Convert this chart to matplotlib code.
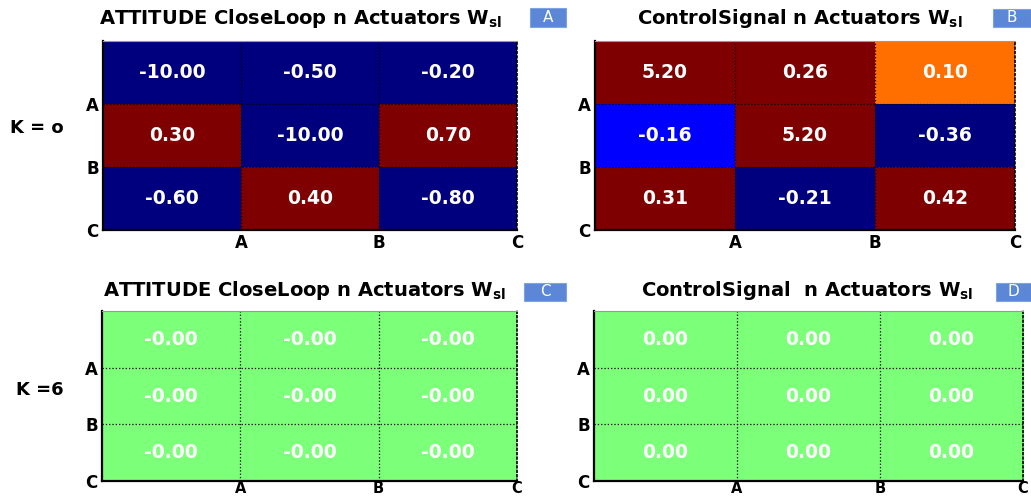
import numpy as np
import matplotlib
matplotlib.use('Agg')
import matplotlib.pyplot as plt
from matplotlib.colors import Normalize
from matplotlib.patches import Rectangle

# data
row_names = ['A', 'B', 'C']
col_names = ['A', 'B', 'C']
att_k0 = [[-10.00, -0.50, -0.20],
          [0.30, -10.00, 0.70],
          [-0.60, 0.40, -0.80]]
ctrl_k0 = [[5.20, 0.26, 0.10],
           [-0.16, 5.20, -0.36],
           [0.31, -0.21, 0.42]]
att_k6 = [[-0.0, -0.0, -0.0],
          [-0.0, -0.0, -0.0],
          [-0.0, -0.0, -0.0]]
ctrl_k6 = [[0.0, 0.0, 0.0],
           [0.0, 0.0, 0.0],
           [0.0, 0.0, 0.0]]
titles = ['ATTITUDE CloseLoop n Actuators',
          'ControlSignal n Actuators',
          'ATTITUDE CloseLoop n Actuators',
          'ControlSignal  n Actuators']
panel_tags = ['A', 'B', 'C', 'D']
k_labels = ['K = o', 'K =6']

plt.rcParams['font.family'] = ['DejaVu Sans']
plt.rcParams['font.weight'] = 'bold'
plt.rcParams['mathtext.fontset'] = 'custom'
plt.rcParams['mathtext.bf'] = 'DejaVu Sans:bold'
plt.rcParams['mathtext.rm'] = 'DejaVu Sans:bold'

W, H = 1031, 497
fig = plt.figure(figsize=(W / 100, H / 100), dpi=100)


def px_axes(x0, y0, x1, y1):
    # pixel box (top-left origin) -> figure fraction
    return fig.add_axes([x0 / W, 1 - y1 / H, (x1 - x0) / W, (y1 - y0) / H])


def heat(ax, vals, norm, xpad=3, xsize=12):
    vals = np.array(vals)
    ax.imshow(vals, cmap='jet', norm=norm, extent=(0, 3, 3, 0),
              aspect='auto', interpolation='nearest')
    for i in range(vals.shape[0]):
        for j in range(vals.shape[1]):
            ax.text(j + 0.5, i + 0.5, '%.2f' % vals[i, j], color='white',
                    ha='center', va='center', fontsize=13.5, weight='bold')
    ax.set_xlim(0, 3)
    ax.set_ylim(3, 0)
    ax.set_xticks([1, 2, 3])
    ax.set_yticks([1, 2, 3])
    ax.set_xticklabels(col_names, fontsize=xsize, weight='bold')
    ax.set_yticklabels(row_names, fontsize=12, weight='bold')
    ax.tick_params(axis='y', length=0, pad=3)
    ax.tick_params(axis='x', length=0, pad=xpad)
    ax.grid(True, linestyle=':', color='black', linewidth=0.9)
    ax.spines['left'].set_linewidth(1.6)
    ax.spines['bottom'].set_linewidth(1.6)
    ax.spines['top'].set_color('#999999')
    ax.spines['top'].set_linewidth(0.8)
    ax.spines['right'].set_linestyle(':')
    ax.spines['right'].set_linewidth(1.2)


# colour limits per panel (values outside clip to the jet ends)
norm_tl = Normalize(vmin=-0.19, vmax=0.19)
norm_tr = Normalize(vmin=-0.206, vmax=0.18)
norm_bot = Normalize(vmin=-1, vmax=1)

ax1 = px_axes(103, 41, 517, 230)
ax2 = px_axes(595, 41, 1015, 230)
ax3 = px_axes(102, 311, 517, 481)
ax4 = px_axes(594, 311, 1023, 481)
heat(ax1, att_k0, norm_tl)
heat(ax2, ctrl_k0, norm_tr)
heat(ax3, att_k6, norm_bot, xpad=0, xsize=10.5)
heat(ax4, ctrl_k6, norm_bot, xpad=0, xsize=10.5)

# titles with subscript
title_pos = [(301, 18), (800, 18), (305, 290), (807, 290)]
for t, (x, y) in zip(titles, title_pos):
    fig.text(x / W, 1 - y / H, t + r' $\mathbf{W_{sl}}$', ha='center',
             va='center', fontsize=14, weight='bold')

# little blue tag boxes
tag_boxes = [(530, 8, 566, 27), (993, 9, 1031, 27),
             (524, 283, 566, 301), (996, 283, 1031, 301)]
for tag, (x0, y0, x1, y1) in zip(panel_tags, tag_boxes):
    fig.patches.append(Rectangle((x0 / W, 1 - y1 / H), (x1 - x0) / W,
                                 (y1 - y0) / H, transform=fig.transFigure,
                                 facecolor='#5b87d6', edgecolor='#7fa2e0',
                                 linewidth=0.8))
    fig.text((x0 + x1) / 2 / W, 1 - (y0 + y1) / 2 / H, tag, color='white',
             ha='center', va='center', fontsize=11, weight='normal')

fig.text(37 / W, 1 - 128 / H, k_labels[0], ha='center', va='center',
         fontsize=13, weight='bold')
fig.text(40 / W, 1 - 390 / H, k_labels[1], ha='center', va='center',
         fontsize=13, weight='bold')

fig.savefig('out.png', dpi=100)
